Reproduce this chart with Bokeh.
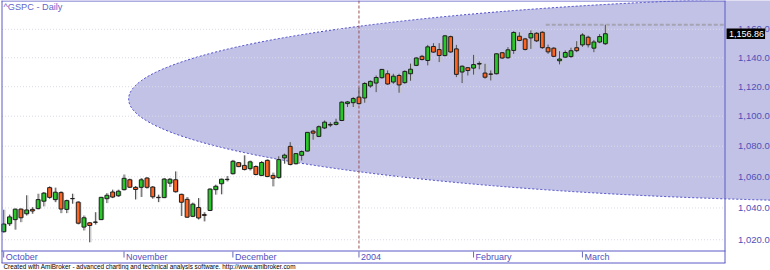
import numpy as np
import pandas as pd
from bokeh.plotting import figure
from bokeh.models import Range1d, LinearScale, ColumnDataSource
from bokeh.core.properties import value
from bokeh.embed import file_html
from bokeh.resources import INLINE

# ---------------- data ----------------
HOLIDAYS = ["2003-11-27", "2003-12-25", "2004-01-01", "2004-01-19", "2004-02-16"]
DATES = [d for d in pd.bdate_range("2003-10-03", "2004-03-05")
         if d.strftime("%Y-%m-%d") not in HOLIDAYS]

OPEN = [1025.0, 1030.0, 1032.6, 1039.3, 1036.3, 1039.1, 1039.6, 1044.3, 1053.0, 1045.3,
        1049.8, 1039.1, 1045.9, 1043.7, 1027.9, 1030.6, 1030.9, 1032.6, 1045.9, 1050.2,
        1047.8, 1051.7, 1058.1, 1053.2, 1053.2, 1059.2, 1053.4, 1046.8, 1046.6, 1055.9,
        1058.1, 1048.7, 1045.5, 1034.7, 1040.3, 1035.8, 1038.4, 1051.7, 1055.5, 1058.4,
        1062.0, 1069.2, 1067.4, 1065.3, 1066.7, 1060.9, 1070.7, 1060.9, 1059.5, 1072.3,
        1079.9, 1068.5, 1074.0, 1076.8, 1090.0, 1086.5, 1092.1, 1094.5, 1094.5, 1097.1,
        1108.5, 1109.1, 1112.9, 1112.3, 1120.5, 1122.5, 1126.2, 1128.9, 1123.2, 1127.7,
        1122.8, 1128.9, 1134.7, 1141.0, 1138.1, 1147.9, 1145.7, 1141.5, 1154.8, 1146.2,
        1130.1, 1133.1, 1132.8, 1135.6, 1129.4, 1128.7, 1128.9, 1143.5, 1140.0, 1145.1,
        1155.1, 1153.2, 1153.9, 1157.2, 1157.9, 1147.0, 1146.7, 1137.9, 1140.4, 1140.8,
        1147.0, 1149.0, 1154.4, 1146.7, 1151.0, 1149.8]
HIGH = [1038.9, 1035.8, 1039.6, 1039.6, 1048.1, 1040.5, 1049.1, 1050.2, 1053.8, 1053.0,
        1050.7, 1045.3, 1049.1, 1044.3, 1035.2, 1031.0, 1037.3, 1047.0, 1049.5, 1051.7,
        1051.7, 1061.5, 1058.8, 1054.0, 1059.2, 1059.8, 1054.0, 1048.5, 1059.2, 1059.2,
        1063.5, 1049.1, 1047.0, 1043.4, 1046.3, 1037.3, 1052.5, 1054.9, 1058.8, 1060.5,
        1071.0, 1069.6, 1074.0, 1070.6, 1067.4, 1070.2, 1071.4, 1062.7, 1073.4, 1075.1,
        1082.7, 1075.5, 1077.2, 1089.3, 1090.9, 1093.8, 1097.1, 1096.0, 1098.3, 1110.0,
        1110.2, 1112.9, 1119.3, 1123.1, 1124.3, 1127.7, 1132.2, 1131.2, 1128.9, 1128.9,
        1131.2, 1135.9, 1140.4, 1142.0, 1149.0, 1150.2, 1150.2, 1156.0, 1155.5, 1149.0,
        1134.7, 1133.5, 1142.0, 1137.5, 1135.8, 1131.2, 1143.1, 1143.9, 1147.4, 1158.6,
        1157.9, 1153.9, 1159.2, 1157.9, 1158.6, 1149.2, 1147.4, 1144.6, 1145.1, 1147.0,
        1151.6, 1157.2, 1155.5, 1152.5, 1156.6, 1163.23]
LOW = [1024.5, 1028.6, 1026.3, 1031.0, 1035.2, 1036.3, 1039.1, 1041.0, 1045.9, 1043.7,
       1036.7, 1036.7, 1042.7, 1029.6, 1025.8, 1018.4, 1029.5, 1032.4, 1043.1, 1046.3,
       1047.0, 1051.2, 1052.8, 1045.4, 1047.0, 1052.3, 1045.9, 1043.7, 1046.3, 1053.4,
       1049.8, 1034.9, 1033.8, 1034.2, 1032.7, 1031.5, 1038.0, 1048.5, 1048.7, 1057.0,
       1061.5, 1066.3, 1064.1, 1064.1, 1060.9, 1060.4, 1059.7, 1053.8, 1058.8, 1068.5,
       1067.4, 1068.0, 1070.6, 1076.6, 1084.3, 1086.0, 1091.4, 1092.7, 1093.8, 1096.7,
       1106.2, 1106.2, 1107.8, 1109.1, 1119.3, 1116.3, 1125.5, 1121.3, 1122.0, 1115.9,
       1122.0, 1124.1, 1134.2, 1138.1, 1134.7, 1143.5, 1137.0, 1141.0, 1143.5, 1126.6,
       1122.5, 1127.7, 1128.3, 1132.0, 1125.5, 1124.3, 1128.5, 1139.3, 1139.3, 1142.7,
       1151.6, 1145.1, 1146.2, 1151.0, 1146.2, 1142.7, 1140.4, 1135.4, 1140.0, 1140.0,
       1143.9, 1147.6, 1147.2, 1143.9, 1150.2, 1149.0]
CLOSE = [1029.85, 1034.35, 1039.25, 1033.78, 1038.73, 1038.06, 1045.35, 1049.48, 1046.76, 1050.07,
         1039.32, 1044.68, 1046.03, 1030.36, 1033.77, 1028.91, 1031.13, 1046.79, 1048.11, 1046.94,
         1050.71, 1059.02, 1053.25, 1051.81, 1058.05, 1053.21, 1047.11, 1046.57, 1058.53, 1058.41,
         1050.35, 1043.63, 1034.15, 1042.44, 1033.65, 1035.28, 1052.08, 1053.89, 1058.45, 1058.20,
         1070.12, 1066.62, 1064.73, 1069.72, 1061.50, 1069.30, 1060.18, 1059.05, 1071.21, 1074.14,
         1068.04, 1075.13, 1076.48, 1089.18, 1088.66, 1092.94, 1096.02, 1094.04, 1095.89, 1109.48,
         1109.64, 1111.92, 1108.48, 1122.22, 1123.67, 1126.33, 1131.92, 1121.86, 1127.23, 1121.22,
         1130.52, 1132.05, 1139.83, 1138.77, 1147.62, 1143.94, 1141.55, 1155.37, 1144.05, 1128.48,
         1134.11, 1131.13, 1135.26, 1136.03, 1126.52, 1128.59, 1142.76, 1139.81, 1145.54, 1157.76,
         1152.11, 1145.81, 1156.99, 1151.82, 1147.06, 1144.11, 1140.99, 1139.09, 1143.67, 1144.91,
         1144.94, 1155.97, 1149.10, 1151.03, 1154.87, 1156.86]

Y_TICKS = [1020, 1040, 1060, 1080, 1100, 1120, 1140, 1160]
Y_TICK_LABELS = ["1,020.0", "1,040.0", "1,060.0", "1,080.0", "1,100.0", "1,120.0", "1,140.0", "1,160.0"]
TITLE = "^GSPC - Daily"
FOOTER = "Created with AmiBroker - advanced charting and technical analysis software. http://www.amibroker.com"
SELECTED_DATE = "2004-01-02"

# ---------------- layout / style ----------------
W, H = 770, 270
BAR_PX = 5.73
FIRST_BAR_PX = 3.2
XS = -FIRST_BAR_PX / BAR_PX
XE = XS + W / BAR_PX
Y_BOTTOM, Y_TOP = 1001.0, 1180.6

UP, DOWN, EDGE = "#28c828", "#ff6420", "#1e1e1e"
BLUE = "#5a5ac8"
LAVENDER = "#c2c2e6"

def T(y_top):
    return H - y_top

n = len(DATES)
bars = np.arange(n)
o, h, l, c = map(np.array, (OPEN, HIGH, LOW, CLOSE))
up = c >= o
src = ColumnDataSource(dict(
    x=bars, xs=bars + 0.22, top=np.maximum(o, c), bottom=np.minimum(o, c),
    high=h, low=l, color=np.where(up, UP, DOWN)))

p = figure(width=W, height=H, x_range=Range1d(XS, XE), y_range=Range1d(Y_BOTTOM, Y_TOP),
           y_axis_type="log", x_axis_location=None, y_axis_location=None,
           toolbar_location=None, output_backend="svg", min_border=0,
           background_fill_color="white", border_fill_color="white", outline_line_color=None)
p.xgrid.visible = False
p.ygrid.visible = False
p.extra_x_ranges = {"px": Range1d(0, W)}
p.extra_y_ranges = {"px": Range1d(0, H)}
p.extra_x_scales = {"px": LinearScale()}
p.extra_y_scales = {"px": LinearScale()}

# ellipse drawing
p.ellipse(x=159.5, y=T(98.5), width=275.4, height=206, y_range_name="px",
          fill_color=LAVENDER, line_color="#4646c8", line_dash="2 2", line_width=1)

# price grid
p.segment(x0=[1.5] * len(Y_TICKS), x1=[724] * len(Y_TICKS), y0=Y_TICKS, y1=Y_TICKS,
          x_range_name="px", line_color="#dadae8", line_dash="1 2", line_width=1)

# selected bar line
sel = [i for i, d in enumerate(DATES) if d.strftime("%Y-%m-%d") == SELECTED_DATE][0]
p.segment(x0=[sel], x1=[sel], y0=[T(0)], y1=[T(250)], y_range_name="px",
          line_color="#9a5050", line_dash="3 2", line_width=1)

# last-high level line
p.segment(x0=[94.6], x1=[125.8], y0=[HIGH[-1]], y1=[HIGH[-1]],
          line_color="#a4a4b4", line_dash="4 2", line_width=2)

# candles
p.segment(x0="xs", x1="xs", y0="low", y1="high", source=src, line_color="#c4c4c4", line_width=1)
p.vbar(x="xs", width=0.66, top="top", bottom="bottom", source=src,
       fill_color="#b8b8b8", line_color=None)
p.segment(x0="x", x1="x", y0="low", y1="high", source=src, line_color="#505050", line_width=1)
p.vbar(x="x", width=0.66, top="top", bottom="bottom", source=src,
       fill_color="color", line_color=EDGE, line_width=1)

# frame borders
p.segment(x0=[1.5, 724.5, 1, 1, 1], x1=[1.5, 724.5, 725, 725, 725],
          y0=[T(0), T(0), T(0.5), T(250.5), T(262.5)],
          y1=[T(262.5), T(262.5), T(0.5), T(250.5), T(262.5)],
          x_range_name="px", y_range_name="px", line_color=BLUE, line_width=1)

# month axis
mstart = [0] + [i for i in range(1, n) if DATES[i].month != DATES[i - 1].month]
mlabels = [str(DATES[i].year) if DATES[i].month == 1 else DATES[i].strftime("%B") for i in mstart]
p.segment(x0=mstart, x1=mstart, y0=[T(251)] * len(mstart), y1=[T(257)] * len(mstart),
          y_range_name="px", line_color="#6a6ab8", line_width=1)
p.text(x=mstart, y=[T(256.5)] * len(mstart), text=mlabels, y_range_name="px",
       x_offset=2, text_baseline="middle", text_align="left",
       text_font=value("Liberation Sans"), text_font_size="9px", text_color="#5050c0")

# price axis labels
p.text(x=[737.5] * len(Y_TICKS), y=Y_TICKS, text=Y_TICK_LABELS, x_range_name="px",
       text_baseline="middle", text_align="left",
       text_font=value("Liberation Sans"), text_font_size="9.5px", text_color="#5050b8")

# last price box
p.rect(x=[745.3], y=[CLOSE[-1]], width=38.5, height=10.5, width_units="screen",
       height_units="screen", x_range_name="px", fill_color="black", line_color=None)
p.text(x=[728.5], y=[CLOSE[-1]], text=["{:,.2f}".format(CLOSE[-1])], x_range_name="px",
       text_baseline="middle", text_align="left",
       text_font=value("Liberation Sans"), text_font_size="9px", text_color="white")

# title and footer
p.text(x=[3], y=[T(1)], text=[TITLE], x_range_name="px", y_range_name="px",
       text_baseline="top", text_align="left",
       text_font=value("Liberation Sans"), text_font_size="9.2px", text_color="#6464cc")
p.text(x=[3], y=[T(266.3)], text=[FOOTER], x_range_name="px", y_range_name="px",
       text_baseline="middle", text_align="left",
       text_font=value("Liberation Sans"), text_font_size="6.4px", text_color="#000000")

open("out.html", "w").write(file_html(p, INLINE))
